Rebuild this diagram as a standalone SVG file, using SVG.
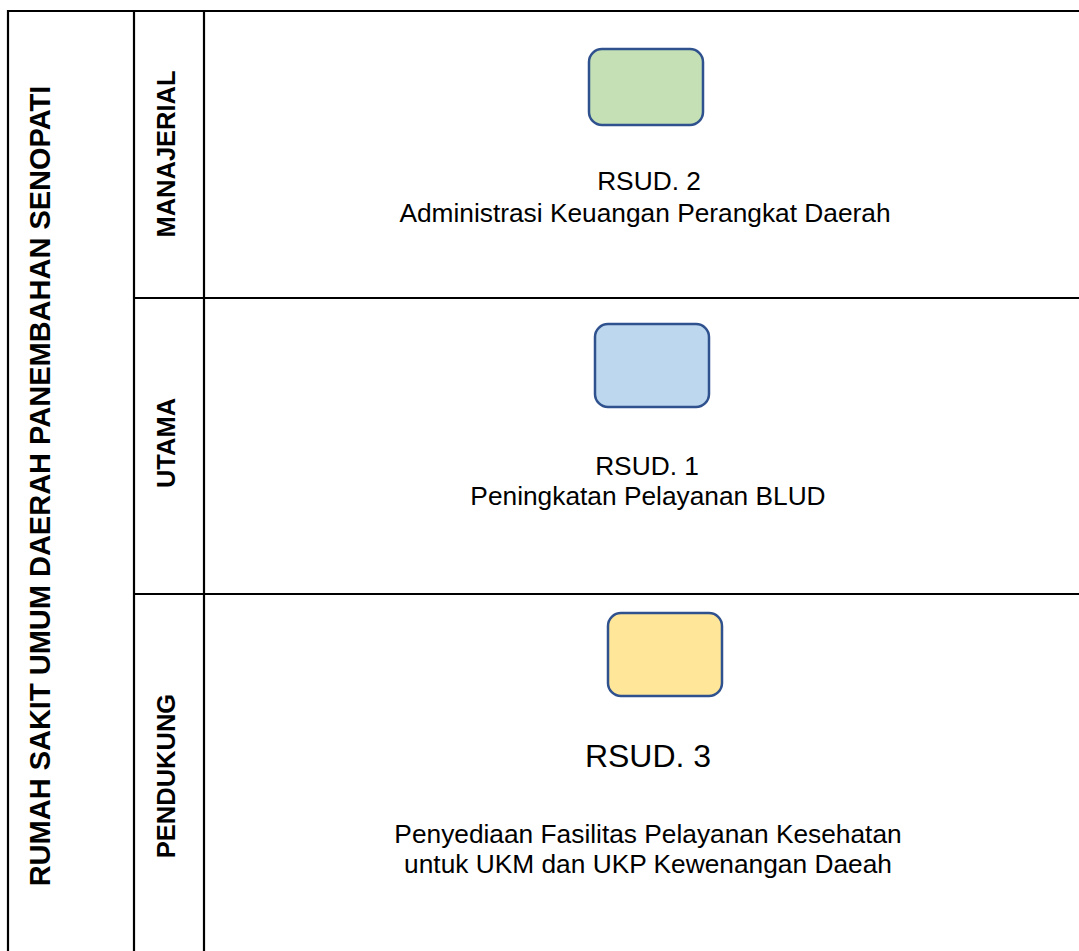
<svg xmlns="http://www.w3.org/2000/svg" width="1079" height="951" viewBox="0 0 1079 951">
<style>
.grid{stroke:#000;stroke-width:2.2;fill:none}
.box{stroke:#2F528F;stroke-width:2.5}
.t{font-family:"Liberation Sans",Arial,sans-serif;fill:#000;text-anchor:middle;font-size:26.3px}
.h{font-family:"Liberation Sans",Arial,sans-serif;font-weight:bold;fill:#000;text-anchor:middle}
</style>
<rect width="1079" height="951" fill="#fff"/>
<g id="connectors" class="grid">
<line x1="8" y1="11" x2="1079" y2="11"/>
<line x1="8" y1="10" x2="8" y2="951"/>
<line x1="134" y1="10" x2="134" y2="951"/>
<line x1="204" y1="10" x2="204" y2="951"/>
<line x1="134" y1="298" x2="1079" y2="298"/>
<line x1="134" y1="594" x2="1079" y2="594"/>
</g>
<g id="title"><text class="h" font-size="29" transform="translate(50,486) rotate(-90)">RUMAH SAKIT UMUM DAERAH PANEMBAHAN SENOPATI</text></g>
<g id="lane-manajerial"><text class="h" font-size="25.5" transform="translate(175,154) rotate(-90)">MANAJERIAL</text></g>
<g id="lane-utama"><text class="h" font-size="25.5" transform="translate(175,443) rotate(-90)">UTAMA</text></g>
<g id="lane-pendukung"><text class="h" font-size="25.5" transform="translate(175,776) rotate(-90)">PENDUKUNG</text></g>
<g id="rsud2">
<rect class="box" x="589" y="49" width="114" height="76" rx="13" fill="#C5E0B4"/>
<text class="t" x="649" y="190">RSUD. 2</text>
<text class="t" x="645" y="222">Administrasi Keuangan Perangkat Daerah</text>
</g>
<g id="rsud1">
<rect class="box" x="595" y="324" width="114" height="83" rx="13" fill="#BDD7EE"/>
<text class="t" x="647" y="475">RSUD. 1</text>
<text class="t" x="648" y="505">Peningkatan Pelayanan BLUD</text>
</g>
<g id="rsud3">
<rect class="box" x="608" y="613" width="114" height="83" rx="13" fill="#FFE699"/>
<text class="t" style="font-size:32px" x="648" y="767">RSUD. 3</text>
<text class="t" x="648" y="843">Penyediaan Fasilitas Pelayanan Kesehatan</text>
<text class="t" x="648" y="873">untuk UKM dan UKP Kewenangan Daeah</text>
</g>
</svg>
